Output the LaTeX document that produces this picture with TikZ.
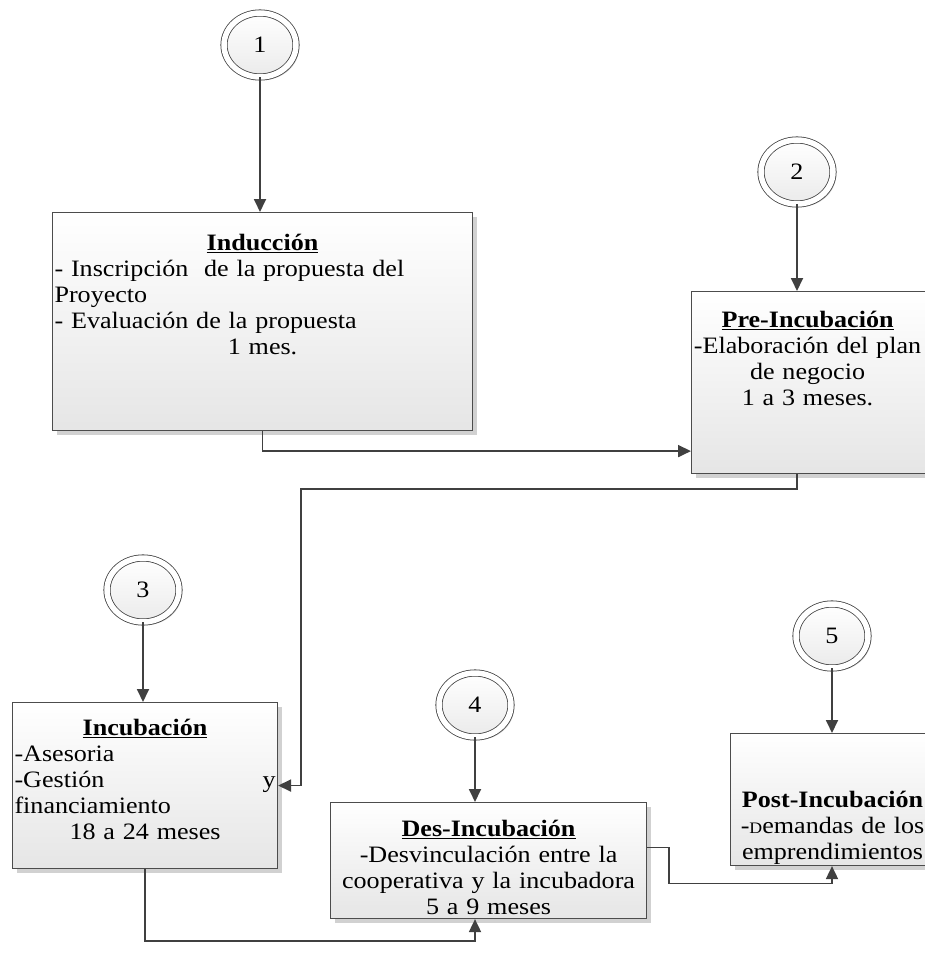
\documentclass[tikz,border=0pt]{standalone}
\usepackage{fontspec}
\setmainfont{Liberation Serif}[FakeStretch=1.11]
\usetikzlibrary{arrows.meta,positioning,shapes.geometric,shadows,calc}

\begin{document}
\begin{tikzpicture}
    [x=1pt, y=-1pt, font=\fontsize{23.5}{26}\selectfont,
    % STYLES
    % The stage style is used for the box of each phase of the incubation
    stage/.style={rectangle, draw=black!70, line width=1.1pt, top color=white, bottom color=black!10, anchor=north west, inner xsep=2pt, inner ysep=0pt, drop shadow={shadow xshift=4pt, shadow yshift=-4pt, fill=black!18, opacity=1}},
    % The phase style is used for the numbered circles
    phase/.style={ellipse, draw=black!75, line width=0.8pt, double=white, double distance=5.5pt, minimum width=72pt, minimum height=64pt, inner sep=0pt, top color=white, bottom color=black!8, drop shadow={shadow xshift=3pt, shadow yshift=-3pt, fill=black!16, opacity=1}},
    % The link style is used for the connectors
    link/.style={draw=black!75, line width=1.8pt, -{Triangle[length=13pt,width=12pt]}}]

    \useasboundingbox (0,0) rectangle (925,969);
    \clip (0,0) rectangle (925,969);

    % Draw numbered circles
    \node [phase] (c1) at (260,45) {1};
    \node [phase] (c2) at (797,172) {2};
    \node [phase] (c3) at (143,590) {3};
    \node [phase] (c4) at (475,705) {4};
    \node [phase] (c5) at (832,636) {5};

    % Draw stages
    \node [stage, minimum width=420pt, text width=416pt, text height=38pt, text depth=180pt] (induccion) at (52,212)
      {{\centering\textbf{\underline{Inducción}}\par}
       - Inscripción\ \ de la propuesta del\\ Proyecto\\ - Evaluación de la propuesta\par
       {\centering 1 mes.\par}};
    \node [stage, minimum width=244pt, text width=240pt, text height=36pt, text depth=146pt] (preinc) at (691,291)
      {\parbox[t]{228pt}{\centering\textbf{\underline{Pre-Incubación}}\\ -Elaboración del plan\\ de negocio\\ 1 a 3 meses.}};
    \node [stage, minimum width=265pt, text width=261pt, text height=33pt, text depth=133pt] (incub) at (12,702)
      {{\centering\textbf{\underline{Incubación}}\par}
       -Asesoria\\ -Gestión\hfill y\\ financiamiento\par
       {\centering 18 a 24 meses\par}};
    \node [stage, minimum width=316pt, text width=312pt, text height=34pt, text depth=82pt] (desinc) at (330,802)
      {{\centering\textbf{\underline{Des-Incubación}}\\ -Desvinculación entre la\\ cooperativa y la incubadora\\ 5 a 9 meses\par}};
    \node [stage, minimum width=204pt, text width=200pt, text height=74pt, text depth=58pt] (postinc) at (730,733)
      {{\centering\textbf{Post-Incubación}\\ -{\fontsize{16}{16}\selectfont D}emandas de los\\ emprendimientos\par}};

    % Draw the links between circles and stages
    \path [link] (c1) -- (c1 |- induccion.north);
    \path [link] (c2) -- (c2 |- preinc.north);
    \path [link] (c3) -- (c3 |- incub.north);
    \path [link] (c4) -- (c4 |- desinc.north);
    \path [link] (c5) -- (c5 |- postinc.north);

    % Draw the links between stages
    \path [link] (induccion.south) |- ($(preinc.south west)+(0,-23)$);
    \path [link] (c2 |- preinc.south) -- ++(0,15) -| ($(incub.east)+(23,0)$) -- (incub.east);
    \path [link] (incub.south) -- ++(0,72) -| (c4 |- desinc.south);
    \path [link] ($(desinc.east)+(0,-13)$) -- ++(22,0) -- ++(0,36) -| (c5 |- postinc.south);
\end{tikzpicture}
\end{document}
